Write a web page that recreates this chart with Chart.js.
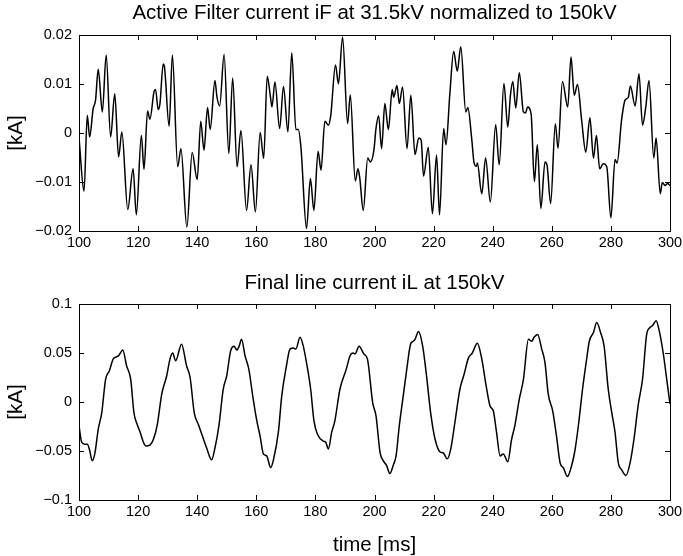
<!DOCTYPE html>
<html>
<head>
<meta charset="utf-8">
<script src="https://cdn.jsdelivr.net/npm/chart.js"></script>
<style>
  body { margin: 0; background: #fff; }
  #wrap { position: relative; width: 683px; height: 556px; }
  #topChart { position: absolute; left: 0; top: 0; }
  #bottomChart { position: absolute; left: 0; top: 262px; }
</style>
</head>
<body>
<div id="wrap">
  <canvas id="topChart" width="683" height="262"></canvas>
  <canvas id="bottomChart" width="683" height="294"></canvas>
</div>
<script>
// active filter current (ms, kA)
let timeF = [100, 101.7, 102.8, 103.6, 104.8, 105.6, 106.5, 107.9, 109.2, 110.7, 112.1, 113.4, 114.5, 116.5, 118.3, 119.4,
  121.1, 122.0, 123.2, 124.0, 125.4, 125.9, 126.8, 127.4, 128.5, 128.9, 130.5, 131.6, 133.4, 134.5, 136.5, 138.3, 140.0,
  141.2, 142.3, 143.5, 144.4, 146.0, 146.7, 147.6, 149.1, 150.7, 152.0, 153.5, 154.8, 156.7, 158.2, 159.7,
  161.3, 162.5, 163.7, 164.8, 165.3, 166.3, 167.9, 169.2, 170.7, 172.0, 173.4, 174.2, 175.1, 177.0, 178.3, 179.5,
  180.9, 181.9, 183.2, 184.4, 185.2, 186.8, 187.8, 189.2, 190.9, 191.8, 193.5, 194.4, 195.0, 196.2, 197.7, 198.6, 199.8,
  200.5, 201.4, 202.4, 203.5, 204.7, 206.0, 206.5, 207.6, 208.4, 209.5, 211.0, 212.3, 213.7, 215.0, 215.8, 216.6, 218.2, 219.6,
  221.0, 222.0, 223.4, 224.2, 225.5, 226.8, 228.0, 229.2, 230.9, 231.6, 232.9, 233.7, 234.5, 234.8, 236.3, 237.6, 239.2,
  241.0, 242.2, 243.8, 245.1, 246.0, 246.8, 247.8, 249.0, 250.4, 251.1, 251.8, 253.0, 254.1, 255.1, 256.3, 257.7, 258.4, 259.6,
  261.2, 262.1, 263.6, 265.4, 266.5, 267.6, 268.7, 270.1, 271.5, 272.9, 274.1, 275.1, 276.2, 277.4, 278.6,
  280.0, 281.4, 282.1, 283.6, 284.8, 285.9, 286.6, 288.2, 289.5, 290.7, 291.8, 292.9, 294.5, 295.3, 296.7, 297.4, 298.3, 299.2, 300.0];
let iF = [-0.0010, -0.0119, 0.0036, -0.0008, 0.0050, 0.0067, 0.0130, 0.0043, 0.0159, -0.0008, 0.0080, -0.0049, 0.0002, -0.0156, -0.0073, -0.0167,
  -0.0005, -0.0074, 0.0045, 0.0028, 0.0085, 0.0089, 0.0048, 0.0060, 0.0141, 0.0136, 0.0014, 0.0159, -0.0069, -0.0032, -0.0192, -0.0040, -0.0095,
  0.0024, -0.0035, 0.0052, 0.0007, 0.0107, 0.0073, 0.0055, 0.0160, -0.0042, 0.0112, -0.0069, 0.0005, -0.0158, -0.0065, -0.0161,
  0.0001, -0.0052, 0.0116, 0.0073, 0.0053, 0.0104, 0.0009, 0.0095, 0.0002, 0.0164, 0.0007, 0.0007, -0.0029, -0.0195, -0.0093, -0.0158,
  -0.0037, -0.0076, 0.0024, 0.0016, 0.0036, 0.0139, 0.0100, 0.0196, 0.0019, 0.0078, -0.0098, -0.0073, -0.0091, -0.0158, -0.0051, -0.0059, -0.0035,
  0.0009, 0.0035, -0.0032, 0.0060, 0.0007, 0.0089, 0.0073, 0.0097, 0.0060, 0.0094, -0.0032, 0.0077, -0.0044, -0.0010, -0.0015, -0.0088, -0.0029, -0.0165,
  -0.0045, -0.0167, 0.0009, -0.0024, 0.0080, 0.0167, 0.0126, 0.0176, 0.0043, 0.0052, -0.0012, -0.0061, -0.0068, -0.0061, -0.0124, -0.0051, -0.0141,
  0.0017, -0.0065, 0.0101, 0.0012, 0.0077, 0.0105, 0.0051, 0.0123, 0.0043, 0.0041, 0.0053, 0.0039, -0.0099, -0.0024, -0.0154, -0.0059, -0.0066, -0.0144,
  0.0019, -0.0031, 0.0105, 0.0053, 0.0155, 0.0077, 0.0099, 0.0026, -0.0039, 0.0031, -0.0051, -0.0005, -0.0073, -0.0063, -0.0069,
  -0.0173, -0.0054, -0.0061, 0.0026, 0.0067, 0.0073, 0.0096, 0.0055, 0.0121, 0.0016, 0.0053, 0.0107, -0.0051, -0.0010, -0.0124, -0.0101, -0.0107, -0.0103, -0.0107];

// final line current (ms, kA)
let timeL = [100, 100.9, 102.0, 102.8, 103.5, 104.5, 105.4, 106.5, 107.7, 109.0, 110.3, 111.6, 112.7, 113.6, 114.8, 116.1, 117.5, 118.6, 119.7,
  120.6, 121.8, 122.7, 124.0, 125.2, 126.5, 128.0, 129.7, 130.8, 131.7, 132.7, 134.7, 136.4, 137.6, 139.0,
  140.4, 141.8, 143.2, 144.9, 146.0, 147.4, 148.8, 150.0, 151.3, 152.5, 153.4, 154.2, 155.0, 156.2, 157.5, 158.8,
  160.1, 161.3, 162.4, 163.5, 164.9, 165.8, 167.5, 168.6, 170.1, 171.4, 172.5, 173.4, 174.8, 175.9, 177.0, 178.4, 179.5,
  180.7, 182.7, 183.5, 184.4, 185.5, 186.6, 188.3, 190.4, 191.7, 192.8, 193.4, 194.8, 196.4, 197.6, 199.4,
  200.5, 201.9, 203.0, 204.1, 205.2, 206.4, 207.3, 208.4, 209.8, 210.9, 212.2, 213.1, 213.7, 214.9, 216.3, 217.6, 219.0,
  220.5, 222.2, 223.3, 224.6, 225.8, 227.2, 228.9, 230.3, 231.8, 233.1, 234.8, 236.3, 237.7, 239.1,
  240.2, 241.3, 242.5, 243.6, 245.1, 246.4, 247.5, 249.0, 250.4, 252.1, 253.2, 254.0, 255.2, 256.6, 257.7, 258.8,
  260.3, 261.6, 262.8, 263.9, 265.3, 266.7, 267.8, 269.0, 270.4, 271.8, 272.7, 274.1, 275.2, 276.5, 277.7, 279.1,
  280.3, 281.4, 282.5, 283.6, 285.1, 286.5, 287.8, 289.3, 290.7, 292.1, 293.2, 294.1, 295.3, 296.4, 297.7, 298.9, 300.0];
let iL = [-0.024, -0.041, -0.043, -0.043, -0.048, -0.060, -0.052, -0.028, -0.011, 0.023, 0.032, 0.044, 0.046, 0.048, 0.053, 0.037, 0.023, -0.011, -0.023,
  -0.030, -0.041, -0.045, -0.044, -0.038, -0.023, 0.008, 0.027, 0.044, 0.050, 0.042, 0.059, 0.037, 0.025, -0.011,
  -0.023, -0.035, -0.047, -0.059, -0.047, -0.023, 0.013, 0.027, 0.052, 0.057, 0.053, 0.057, 0.064, 0.047, 0.033, 0.006,
  -0.018, -0.035, -0.053, -0.055, -0.067, -0.059, -0.030, 0.006, 0.035, 0.054, 0.055, 0.054, 0.066, 0.057, 0.040, 0.013, -0.019,
  -0.033, -0.040, -0.041, -0.048, -0.031, -0.019, 0.013, 0.033, 0.047, 0.050, 0.049, 0.057, 0.049, 0.044, -0.001,
  -0.014, -0.052, -0.060, -0.065, -0.073, -0.064, -0.055, -0.024, 0.008, 0.033, 0.059, 0.062, 0.064, 0.072, 0.057, 0.027, -0.011,
  -0.038, -0.051, -0.052, -0.058, -0.048, -0.021, 0.013, 0.028, 0.045, 0.050, 0.060, 0.044, 0.018, -0.004,
  -0.009, -0.031, -0.055, -0.053, -0.061, -0.038, -0.024, 0.003, 0.023, 0.064, 0.062, 0.066, 0.069, 0.054, 0.040, 0.008,
  -0.009, -0.035, -0.062, -0.067, -0.076, -0.065, -0.050, -0.024, 0.013, 0.044, 0.062, 0.071, 0.081, 0.071, 0.057, 0.013,
  -0.011, -0.031, -0.062, -0.069, -0.075, -0.062, -0.038, -0.002, 0.023, 0.069, 0.076, 0.078, 0.083, 0.072, 0.050, 0.023, -0.002];

let xTicks = [100, 120, 140, 160, 180, 200, 220, 240, 260, 280, 300];
let yTicksF = [-0.02, -0.01, 0, 0.01, 0.02];
let yTicksL = [-0.1, -0.05, 0, 0.05, 0.1];

const FONT = '"Liberation Sans", Arial, sans-serif';
Chart.defaults.font.family = FONT;
Chart.defaults.color = '#000';

// matlab style box with ticks pointing inward on all four sides
const matlabBox = {
  id: 'matlabBox',
  afterDatasetsDraw(chart) {
    const ctx = chart.ctx;
    const a = chart.chartArea;
    const x = chart.scales.x, y = chart.scales.y;
    ctx.save();
    ctx.strokeStyle = '#000';
    ctx.lineWidth = 1;
    ctx.beginPath();
    x.ticks.forEach(t => {
      let px = Math.round(x.getPixelForValue(t.value)) + 0.5;
      ctx.moveTo(px, a.bottom); ctx.lineTo(px, a.bottom - 5);
      ctx.moveTo(px, a.top); ctx.lineTo(px, a.top + 5);
    });
    y.ticks.forEach(t => {
      let py = Math.round(y.getPixelForValue(t.value)) + 0.5;
      ctx.moveTo(a.left, py); ctx.lineTo(a.left + 5, py);
      ctx.moveTo(a.right, py); ctx.lineTo(a.right - 5, py);
    });
    ctx.stroke();
    ctx.strokeRect(Math.round(a.left) + 0.5, Math.round(a.top) + 0.5,
      Math.round(a.right - a.left), Math.round(a.bottom - a.top));
    ctx.restore();
  }
};

// title centred over the plot box, like matlab does it
const plotTitle = {
  id: 'plotTitle',
  afterDraw(chart, args, opts) {
    const ctx = chart.ctx;
    const a = chart.chartArea;
    ctx.save();
    ctx.fillStyle = '#000';
    ctx.font = '20.5px ' + FONT;
    ctx.textAlign = 'center';
    ctx.textBaseline = 'alphabetic';
    ctx.fillText(opts.text, (a.left + a.right) / 2, opts.baseline);
    ctx.restore();
  }
};

function tickLabel(v) {
  let s = String(parseFloat(v.toFixed(3)));
  return s.replace('-', '\u2212');
}

function makeChart(id, times, values, title, yMin, yMax, opts) {
  let pts = [];
  for (let i = 0; i < times.length; i++) {
    pts.push({ x: times[i], y: values[i] });
  }
  return new Chart(document.getElementById(id), {
    type: 'line',
    data: {
      datasets: [{
        data: pts,
        borderColor: '#000',
        borderWidth: 1.5,
        pointRadius: 0,
        fill: false,
        cubicInterpolationMode: 'monotone'
      }]
    },
    options: {
      responsive: false,
      animation: false,
      events: [],
      layout: { padding: { left: 0, right: 13, top: opts.top, bottom: 0 } },
      plugins: {
        legend: { display: false },
        tooltip: { enabled: false },
        title: { display: false },
        plotTitle: { text: title, baseline: opts.titleBase }
      },
      scales: {
        x: {
          type: 'linear',
          min: 100, max: 300,
          grid: { display: false, drawTicks: false },
          border: { display: false },
          afterBuildTicks: s => { s.ticks = xTicks.map(v => ({ value: v })); },
          ticks: { font: { size: 14.5 }, padding: 3, maxRotation: 0 },
          title: {
            display: opts.xTitle != null,
            text: opts.xTitle || '',
            font: { size: 20.5 },
            padding: { top: 0, bottom: -2 }
          },
          afterFit: s => {
            s.height = opts.xHeight;
            // keep the box edges fixed, labels may hang over
            s.paddingLeft = 0;
            s.paddingRight = 0;
          }
        },
        y: {
          min: yMin, max: yMax,
          grid: { display: false, drawTicks: false },
          border: { display: false },
          afterBuildTicks: s => { s.ticks = opts.yTicks.map(v => ({ value: v })); },
          ticks: {
            font: { size: 14.5 },
            padding: 7,
            callback: v => tickLabel(v)
          },
          title: {
            display: true,
            text: '[kA]',
            font: { size: 20.5 },
            padding: { top: 4, bottom: 0 }
          },
          afterFit: s => {
            s.width = 79;
            s.paddingTop = 0;
            s.paddingBottom = 0;
          }
        }
      }
    },
    plugins: [matlabBox, plotTitle]
  });
}

makeChart('topChart', timeF, iF, 'Active Filter current iF at 31.5kV normalized to 150kV',
  -0.02, 0.02, { top: 35, titleBase: 18.5, xHeight: 31, yTicks: yTicksF });
makeChart('bottomChart', timeL, iL, 'Final line current iL at 150kV',
  -0.1, 0.1, { top: 42, titleBase: 26.5, xHeight: 56, yTicks: yTicksL, xTitle: 'time [ms]' });
</script>
</body>
</html>
